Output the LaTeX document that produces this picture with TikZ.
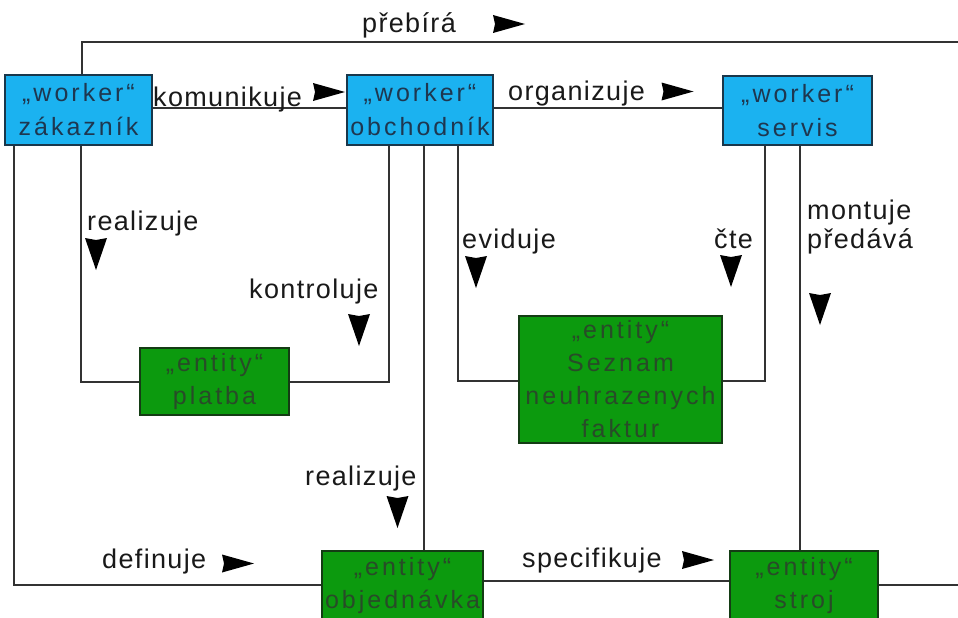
\documentclass[tikz,border=0pt]{standalone}
\usepackage{fontspec}
\setmainfont{Liberation Sans}
\newfontfamily\lblfont[LetterSpace=5]{Liberation Sans}
\newfontfamily\boxfont[LetterSpace=12]{Liberation Sans}
\definecolor{wfill}{RGB}{27,178,240}
\definecolor{wline}{RGB}{25,55,75}
\definecolor{wtext}{RGB}{30,55,80}
\definecolor{efill}{RGB}{12,154,14}
\definecolor{eline}{RGB}{20,60,20}
\definecolor{etext}{RGB}{40,75,40}
\definecolor{connc}{RGB}{50,50,50}
\definecolor{labc}{RGB}{25,25,25}
\tikzset{
  rtri/.pic={\fill[black] (-16,-9) -- (16,0) -- (-16,9) -- (-14,0) -- cycle;},
  dtri/.pic={\fill[black] (-11,-16) -- (0,16) -- (11,-16) -- (0,-14) -- cycle;}
}
\begin{document}
\begin{tikzpicture}[x=1pt,y=-1pt,
  worker/.style={draw=wline, fill=wfill, text=wtext, line width=1.5pt, inner sep=0pt,
    align=center, font=\boxfont\fontsize{25}{34}\selectfont},
  entity/.style={draw=eline, fill=efill, text=etext, line width=1.5pt, inner sep=0pt,
    align=center, font=\boxfont\fontsize{25}{33}\selectfont},
  lbl/.style={text=labc, inner sep=0pt, anchor=base west, align=left,
    font=\lblfont\fontsize{27}{29}\selectfont},
  conn/.style={draw=connc, line width=2pt}]
\useasboundingbox (0,0) rectangle (958,618);
\fill[white] (0,0) rectangle (958,618);
\clip (0,0) rectangle (958,618);

% workers
\node[worker, minimum width=147pt, minimum height=70pt] (zak) at (78.5,110) {„worker“\\zákazník};
\node[worker, minimum width=146pt, minimum height=70pt] (obch) at (420,110) {„worker“\\obchodník};
\node[worker, minimum width=149pt, minimum height=69pt] (serv) at (797.5,110.5) {„worker“\\servis};

% entities
\node[entity, minimum width=149pt, minimum height=67pt] (platba) at (214.5,381.5) {„entity“\\platba};
\node[entity, minimum width=203pt, minimum height=127pt] (seznam) at (620.5,379.5) {„entity“\\Seznam\\neuhrazenych\\faktur};
\node[entity, minimum width=161pt, minimum height=70pt] (objed) at (402.5,586) {„entity“\\objednávka};
\node[entity, minimum width=148pt, minimum height=70pt] (stroj) at (804,586) {„entity“\\stroj};

% outer loop beyond the right edge
\coordinate (topR) at (975,42);

% connectors
\draw[conn] ([xshift=3.5]zak.north) |- (topR) |- ([yshift=1]stroj.east);
\draw[conn] ([yshift=2]zak.east) -- ([yshift=2]obch.west);
\draw[conn] ([yshift=2]obch.east) -- ([yshift=2.5]serv.west);
\draw[conn] ([xshift=2.5]zak.south) |- (platba.west);
\draw[conn] ([xshift=-31]obch.south) |- (platba.east);
\draw[conn] ([xshift=38]obch.south) |- ([yshift=-1.5]seznam.west);
\draw[conn] ([xshift=-32.5]serv.south) |- ([yshift=-1.5]seznam.east);
\draw[conn] ([xshift=4]obch.south) -- ([xshift=4]obch.south |- objed.north);
\draw[conn] ([xshift=2.5]serv.south) -- ([xshift=2.5]serv.south |- stroj.north);
\draw[conn] ([xshift=-64.5]zak.south) |- ([yshift=1]objed.west);
\draw[conn] ([yshift=5]objed.east) -- ([yshift=5]stroj.west);

% labels
\node[lbl] (tprebira) at (362,33) {přebírá};
\node[lbl] (tkomun) at (153,106) {komunikuje};
\node[lbl] (torgan) at (508,100) {organizuje};
\node[lbl] (treal1) at (87,230) {realizuje};
\node[lbl] (tkontr) at (249,298) {kontroluje};
\node[lbl] (tevid) at (462,248) {eviduje};
\node[lbl] (tcte) at (714,248) {čte};
\node[lbl] (tmont) at (807,248) {montuje\\předává};
\node[lbl] (treal2) at (305,485) {realizuje};
\node[lbl] (tdef) at (102,568) {definuje};
\node[lbl] (tspec) at (522,567) {specifikuje};

% direction marks
\pic at (509,24) {rtri};
\pic at (329,92) {rtri};
\pic at (677.5,91.5) {rtri};
\pic at (238,563.5) {rtri};
\pic at (698,560) {rtri};
\pic at (96,254) {dtri};
\pic at (359,330) {dtri};
\pic at (476,272) {dtri};
\pic at (731,271) {dtri};
\pic at (820,309) {dtri};
\pic at (397.5,512) {dtri};
\end{tikzpicture}
\end{document}
